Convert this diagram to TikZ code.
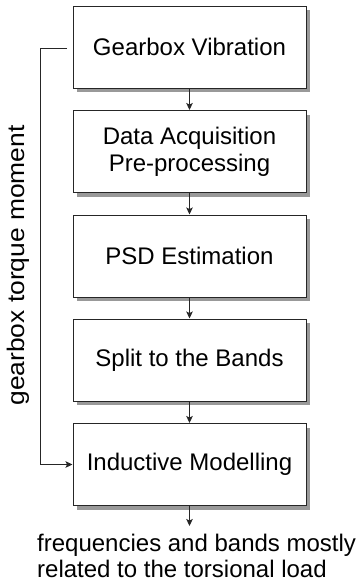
\documentclass[tikz,border=0pt]{standalone}
\usepackage{fontspec}
\setmainfont{Liberation Sans}
\usetikzlibrary{shadows, arrows.meta}

\begin{document}
\begin{tikzpicture}[x=1pt, y=-1pt,
    stage/.style={rectangle, draw=black!85, line width=1pt, fill=white, minimum width=233pt, minimum height=82pt, align=center, font=\fontsize{24}{27}\selectfont, drop shadow={shadow xshift=4pt, shadow yshift=-4pt, fill=black!40, opacity=1}},
    flow/.style={-{Stealth[length=7pt, width=6.5pt, inset=1.5pt]}, line width=1pt, black!85}]
        \useasboundingbox (0, 0) rectangle (362, 584);

        \node[stage] (g1) at (189.5, 47) {Gearbox Vibration};
        \node[stage] (g2) at (189.5, 151.5) {Data Acquisition\\Pre-processing};
        \node[stage] (g3) at (189.5, 256) {PSD Estimation};
        \node[stage] (g4) at (189.5, 360) {Split to the Bands};
        \node[stage] (g5) at (189.5, 464.5) {Inductive Modelling};

        \coordinate (out) at (189.5, 526);
        \node[anchor=north west, inner sep=0pt, align=left, font=\fontsize{24}{25.5}\selectfont] (res) at (37, 534) {frequencies and bands mostly\\related to the torsional load};

        \draw[flow] (g1) -- (g2);
        \draw[flow] (g2) -- (g3);
        \draw[flow] (g3) -- (g4);
        \draw[flow] (g4) -- (g5);
        \draw[flow] (g5) -- (out);

        % torque moment fed to the model
        \coordinate (fb0) at (67, 48);
        \coordinate (fb1) at (40, 48);
        \draw[flow] (fb0) -- (fb1) |- (g5.west);
        \node[rotate=90, xscale=1.1, inner sep=0pt, font=\fontsize{24}{27}\selectfont] (torque) at (18, 265.5) {gearbox torque moment};
    \end{tikzpicture}
\end{document}
